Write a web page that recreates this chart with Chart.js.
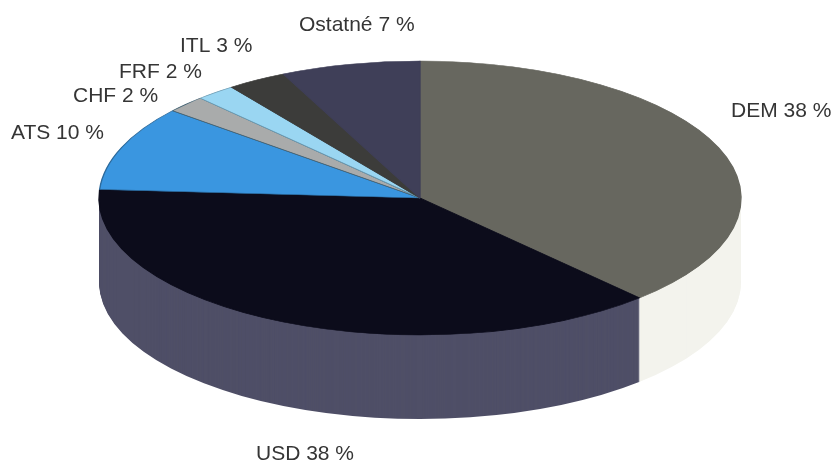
<!DOCTYPE html>
<html>
<head>
<meta charset="utf-8">
<style>
  html, body { margin: 0; padding: 0; background: #fff; overflow: hidden; }
</style>
<script src="https://cdn.jsdelivr.net/npm/chart.js@4"></script>
</head>
<body>
<canvas id="graf" width="832" height="461"></canvas>
<script>
const categories = ['DEM', 'USD', 'ATS', 'CHF', 'FRF', 'ITL', 'Ostatné'];
const shares = [38, 38, 10, 2, 2, 3, 7];
const topColors = ['#67675f', '#0c0c1b', '#3a96e0', '#a9abab', '#9ad6f2', '#3c3c3a', '#3f3f58'];
const edgeColors = ['#67675f', '#0c0c1b', '#2c6a9c', '#3f5f70', '#6a9ab2', '#3c3c3a', '#3f3f58'];
const sideColors = ['#f3f3ed', '#4f4f67', '#2b70a8', '#7f8080', '#74a1b6', '#2d2d2c', '#2f2f42'];

// left x and baseline of every label, same order as categories
const labelX = [731, 256, 11, 73, 119, 180, 299];
const labelY = [117, 460, 139, 102, 78, 52, 31];

// flattened disc on the page
const centerX = 420, centerY = 198, radiusX = 321, radiusY = 137, depth = 84;

function squash(ctx, arc) {
    ctx.translate(centerX, centerY);
    ctx.scale(radiusX / arc.outerRadius, radiusY / arc.outerRadius);
    ctx.translate(-arc.x, -arc.y);
}

const disc3d = {
    id: 'disc3d',
    beforeDatasetsDraw(chart) {
        const ctx = chart.ctx;
        const arcs = chart.getDatasetMeta(0).data;
        // side wall: the slices stacked from the bottom up
        for (let d = depth; d > 0; d--) {
            ctx.save();
            ctx.translate(0, d);
            squash(ctx, arcs[0]);
            arcs.forEach(function(arc, i) {
                const fill = arc.options.backgroundColor, line = arc.options.borderWidth;
                arc.options.backgroundColor = sideColors[i];
                arc.options.borderWidth = 0;
                arc.draw(ctx);
                arc.options.backgroundColor = fill;
                arc.options.borderWidth = line;
            });
            ctx.restore();
        }
        ctx.save();
        squash(ctx, arcs[0]);
    },
    afterDatasetsDraw(chart) {
        const ctx = chart.ctx;
        ctx.restore();
        ctx.save();
        ctx.font = '21px "Liberation Sans", Arial, sans-serif';
        ctx.fillStyle = '#353535';
        ctx.textBaseline = 'alphabetic';
        categories.forEach(function(name, i) {
            ctx.fillText(name + ' ' + shares[i] + ' %', labelX[i], labelY[i]);
        });
        ctx.restore();
    }
};

new Chart(document.getElementById('graf').getContext('2d'), {
    type: 'pie',
    data: {
        labels: categories,
        datasets: [{
            data: shares,
            backgroundColor: topColors,
            borderColor: edgeColors,
            borderWidth: 1,
            clip: false
        }]
    },
    options: {
        responsive: false,
        animation: false,
        events: [],
        plugins: {
            legend: { display: false },
            tooltip: { enabled: false }
        }
    },
    plugins: [disc3d]
});
</script>
</body>
</html>
